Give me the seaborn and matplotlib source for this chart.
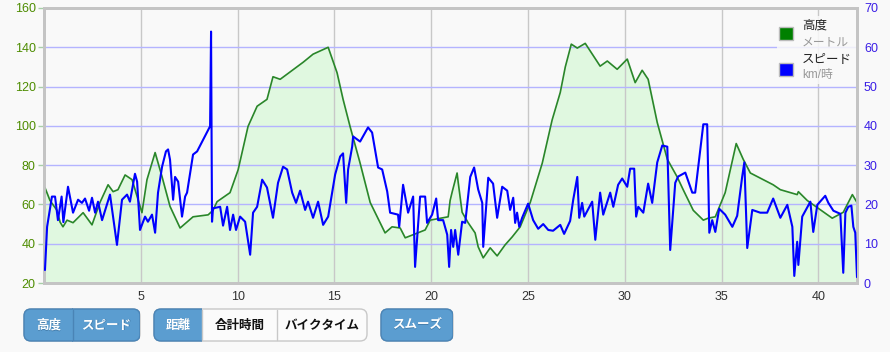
import seaborn as sns
import matplotlib.pyplot as plt
import pandas as pd
from matplotlib.patches import FancyBboxPatch, Rectangle

# 高度 (m)
km_elev = [0.05, 0.31, 0.67, 0.83, 0.98, 1.19, 1.50, 2.02, 2.48, 2.89, 3.31, 3.57, 3.82, 4.19, 4.55,
           5.06, 5.32, 5.74, 6.10, 6.51, 7.03, 7.70, 8.48, 8.73, 8.94, 9.61, 10.03, 10.54, 11.01, 11.52,
           11.83, 12.20, 13.39, 13.90, 14.68, 15.14, 15.45, 15.81, 16.33, 16.85, 17.62, 17.98, 18.40,
           18.66, 19.69, 19.95, 20.88, 20.98, 21.09, 21.34, 21.40, 21.60, 21.91, 22.27, 22.43, 22.69,
           23.05, 23.41, 23.82, 24.19, 24.60, 25.12, 25.74, 26.25, 26.67, 26.93, 27.24, 27.55, 27.96,
           28.73, 29.10, 29.61, 30.13, 30.54, 30.90, 31.21, 31.68, 32.20, 32.71, 33.02, 33.54, 34.06,
           34.31, 34.68, 35.19, 35.76, 36.12, 36.49, 37.67, 38.04, 38.91, 38.97, 39.43, 40.72, 41.29,
           41.76, 42.0]
elev = [68.5, 62, 57, 51, 48.6, 52, 50.7, 55.8, 49.6, 61, 70, 66.5, 67.5, 75, 72.6,
        55.8, 72.6, 86.4, 74, 59, 48, 53.7, 54.7, 57, 61.4, 66, 77.7, 99.7, 110, 113.5,
        125, 123.7, 132.4, 136.5, 140, 127, 113.5, 99.7, 81, 61, 45.5, 48.6, 48,
        43, 47, 52, 53.7, 62, 66.5, 76, 71, 56, 50.7, 45.5, 38.4, 32.8,
        37.9, 33.8, 39.4, 43.5, 48.6, 61, 81, 103, 117, 130, 141.6, 139.6, 142,
        130.4, 133, 128.8, 134, 122, 128.3, 123.7, 101.7, 83, 74, 67.5, 57, 52,
        53, 53.7, 66, 91, 83, 76, 70, 67.5, 65, 66.5, 62, 53, 56,
        65, 61]

# スピード (km/時)
km_spd = [0.05, 0.16, 0.41, 0.57, 0.72, 0.91, 1.00, 1.24, 1.50, 1.76, 1.96, 2.12, 2.33, 2.48, 2.64,
          2.79, 3.00, 3.41, 3.77, 4.03, 4.29, 4.44, 4.70, 4.81, 4.96, 5.22, 5.37, 5.58, 5.74, 5.89,
          6.10, 6.30, 6.41, 6.51, 6.67, 6.77, 6.93, 7.13, 7.29, 7.39, 7.70, 7.91, 8.58, 8.63, 8.68,
          8.73, 9.10, 9.25, 9.46, 9.61, 9.77, 9.92, 10.13, 10.39, 10.65, 10.80, 11.01, 11.27, 11.52,
          11.83, 12.09, 12.35, 12.56, 12.82, 13.02, 13.23, 13.49, 13.64, 13.90, 14.16, 14.42, 14.68,
          15.04, 15.30, 15.45, 15.61, 15.71, 15.92, 15.97, 16.33, 16.74, 16.95, 17.26, 17.47, 17.73,
          17.88, 18.29, 18.35, 18.55, 18.81, 19.07, 19.17, 19.43, 19.69, 19.79, 20.05, 20.26, 20.36,
          20.62, 20.83, 20.93, 21.03, 21.14, 21.24, 21.40, 21.60, 21.76, 22.02, 22.22, 22.43, 22.64,
          22.69, 22.95, 23.20, 23.41, 23.67, 23.93, 24.08, 24.24, 24.34, 24.44, 24.55, 24.70, 25.01,
          25.27, 25.53, 25.79, 26.05, 26.30, 26.67, 26.87, 27.18, 27.34, 27.55, 27.65, 27.80, 27.91,
          28.32, 28.48, 28.73, 28.89, 29.25, 29.41, 29.66, 29.87, 30.13, 30.28, 30.49, 30.59, 30.70,
          30.96, 31.21, 31.42, 31.68, 31.94, 32.20, 32.35, 32.61, 32.76, 33.13, 33.49, 33.64, 34.06,
          34.26, 34.37, 34.52, 34.68, 34.88, 35.19, 35.56, 35.81, 36.07, 36.18, 36.33, 36.59, 37.00,
          37.36, 37.67, 38.04, 38.40, 38.66, 38.76, 38.91, 38.97, 39.17, 39.59, 39.74, 39.95, 40.36,
          40.52, 40.78, 41.14, 41.29, 41.40, 41.55, 41.71, 41.81, 41.91, 42.0]
spd = [3.3, 14.3, 22, 22, 16, 22, 15.5, 24.5, 17.9, 21.2, 20.4, 21.5, 18.4, 21.7, 17.9,
       20.7, 16, 22.5, 9.7, 21.2, 22.5, 20.7, 27.8, 25.8, 13.5, 16.9, 15.6, 17.4, 12.8, 23,
       29.6, 33.5, 34, 31.4, 21.2, 27, 25.8, 16.9, 22, 23, 32.7, 33.5, 39.9, 64, 15.6,
       19, 19.4, 14.6, 19.4, 13.5, 17.4, 13.5, 16.9, 15.6, 7.2, 17.9, 19.4, 26.3, 24.3,
       16.6, 25.5, 29.6, 28.9, 23, 20.4, 23.5, 18.6, 20.7, 16.6, 20.7, 14.8, 16.9,
       27.6, 32.2, 33, 20.4, 28.9, 34.7, 37.3, 36, 39.6, 38.3, 29.4, 28.9, 23.3,
       17.9, 17.4, 14.3, 25, 17.9, 22, 4.1, 22, 22, 15.3, 17.4, 21.5, 16,
       16, 12.3, 4.1, 13.5, 9.2, 13.5, 7.2, 15.6, 15.3, 27, 29.4, 23.8, 20.4,
       9.2, 26.8, 25.3, 16.6, 24.5, 23.5, 18.6, 21.7, 15.3, 17.9, 14.3, 16.6, 20.2,
       16, 13.8, 15, 13.5, 13.3, 14.8, 12.5, 15.8, 21.2, 27, 16.6, 20.4, 16.9,
       20.7, 11, 23, 17.4, 23, 19.4, 25, 26.6, 24.5, 29.1, 29.1, 16.9, 19.4,
       17.9, 25.3, 20.4, 30.7, 35, 34.7, 8.4, 25.5, 27.1, 28.1, 23, 23, 40.4,
       40.4, 12.8, 16, 13, 18.9, 17.4, 14.3, 17.1, 27.1, 30.7, 8.9, 18.6, 17.9,
       17.9, 21.5, 16.6, 19.9, 14.3, 1.8, 10.5, 4.6, 16.9, 20.7, 13, 19.9, 22.2,
       20.4, 18.4, 17.6, 2.6, 17.9, 19.4, 19.7, 14.3, 12.8, 1.5]

x_ticks = [5, 10, 15, 20, 25, 30, 35, 40]
elev_ticks = [20, 40, 60, 80, 100, 120, 140, 160]
spd_ticks = [0, 10, 20, 30, 40, 50, 60, 70]

df_elev = pd.DataFrame({'km': km_elev, 'elev': elev})
df_spd = pd.DataFrame({'km': km_spd, 'spd': spd})

sns.set_style('white')
plt.rcParams['font.family'] = ['Liberation Sans', 'Noto Sans CJK JP', 'DejaVu Sans']

bg = '#f9f9f9'
fig = plt.figure(figsize=(8.9, 3.52), dpi=100, facecolor=bg)
ax = fig.add_axes([44 / 890, 1 - 283 / 352, (857 - 44) / 890, (283 - 8) / 352])
ax.set_facecolor(bg)
ax2 = ax.twinx()

ax.fill_between(df_elev['km'], df_elev['elev'], 20, color='#e0f8e0', zorder=1)
sns.lineplot(data=df_elev, x='km', y='elev', ax=ax, color='#2a862a', lw=1.2,
             sort=False, estimator=None, zorder=3)
sns.lineplot(data=df_spd, x='km', y='spd', ax=ax2, color='#0000ff', lw=1.5,
             sort=False, estimator=None, zorder=3)

ax.set_xlim(0, 42)
ax.set_ylim(20, 160)
ax2.set_ylim(0, 70)
ax.set_xticks(x_ticks)
ax.set_yticks(elev_ticks)
ax2.set_yticks(spd_ticks)
ax.set_xlabel('')
ax.set_ylabel('')
ax2.set_ylabel('')

for x in x_ticks:
    ax.axvline(x, color='#c8c8c8', lw=1, zorder=2)
for y in elev_ticks[1:]:
    ax.axhline(y, color='#b4b4ff', lw=1, zorder=2)

ax.tick_params(axis='x', length=0, labelsize=9, labelcolor='#333333', pad=6)
ax.tick_params(axis='y', length=4, width=1, color='#a8cfa8', labelsize=9,
               labelcolor='#4d8c00', pad=2)
ax2.tick_params(axis='y', length=0, labelsize=9, labelcolor='#3a1ee6', pad=5)

for a in (ax, ax2):
    for s in a.spines.values():
        s.set_color('#c4c4c4')
        s.set_linewidth(2)

# overlay in pixel units for legend and buttons
ui = fig.add_axes([0, 0, 1, 1])
ui.set_xlim(0, 890)
ui.set_ylim(352, 0)
ui.axis('off')

ui.add_patch(Rectangle((777, 16), 79, 68, facecolor=bg, edgecolor='none', alpha=0.85))
ui.add_patch(Rectangle((779, 27), 14, 13, facecolor='#008000', edgecolor='#bbbbbb', lw=1))
ui.add_patch(Rectangle((779, 63), 14, 13, facecolor='#0000ff', edgecolor='#bbbbbb', lw=1))
ui.text(802, 26, '高度', fontsize=9, color='#222222', va='center', ha='left')
ui.text(802, 42, 'メートル', fontsize=8.5, color='#999999', va='center', ha='left')
ui.text(802, 60, 'スピード', fontsize=9, color='#222222', va='center', ha='left')
ui.text(802, 75, 'km/時', fontsize=8.5, color='#999999', va='center', ha='left')

blue_face = '#5b9dd0'
blue_edge = '#4a84b6'


def group(x0, x1, y0, y1, segs):
    # segs: list of (x_start, x_end, label, active)
    base = FancyBboxPatch((x0, y0), x1 - x0, y1 - y0,
                          boxstyle='round,pad=0,rounding_size=7',
                          facecolor='#fbfbfb', edgecolor='#c8c8c8', lw=1)
    ui.add_patch(base)
    for sx0, sx1, label, active in segs:
        if active:
            p = FancyBboxPatch((x0, y0), x1 - x0, y1 - y0,
                               boxstyle='round,pad=0,rounding_size=7',
                               facecolor=blue_face, edgecolor=blue_edge, lw=1)
            ui.add_patch(p)
            clip = Rectangle((sx0 - 1, y0 - 2), sx1 - sx0 + 1, y1 - y0 + 4,
                             transform=ui.transData)
            p.set_clip_path(clip)
            ui.text((sx0 + sx1) / 2 + 0.5, (y0 + y1) / 2 + 1.5, label, fontsize=9,
                    fontweight='bold', color='#2d5f8a', ha='center', va='center', alpha=0.5)
            ui.text((sx0 + sx1) / 2, (y0 + y1) / 2 + 0.5, label, fontsize=9,
                    fontweight='bold', color='white', ha='center', va='center')
        else:
            ui.text((sx0 + sx1) / 2, (y0 + y1) / 2 + 0.5, label, fontsize=9,
                    fontweight='bold', color='#111111', ha='center', va='center')
    for sx0, sx1, label, active in segs[1:]:
        ui.plot([sx0, sx0], [y0 + 1, y1 - 1], color='#4a84b6' if active else '#c8c8c8', lw=1)


group(24, 140, 309, 341, [(24, 73, '高度', True), (73, 140, 'スピード', True)])
group(154, 367, 309, 341, [(154, 202, '距離', True), (202, 277, '合計時間', False),
                           (277, 367, 'バイクタイム', False)])
group(381, 453, 309, 341, [(381, 453, 'スムーズ', True)])

plt.savefig('out.png', dpi=100, facecolor=bg)
